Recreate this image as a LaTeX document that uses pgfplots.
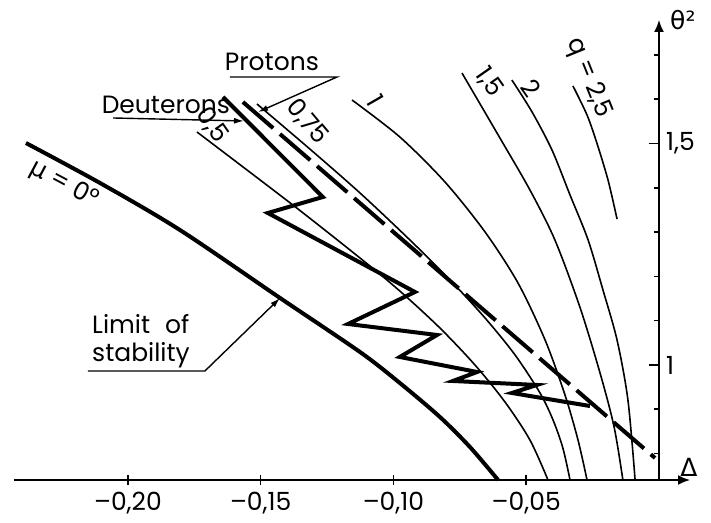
\documentclass[border=0pt]{standalone}
\usepackage{fontspec}
\setmainfont{Poppins}
\newfontfamily\gr{DejaVu Sans}
\usepackage{pgfplots}
\pgfplotsset{compat=1.18}
\usetikzlibrary{arrows.meta}
\begin{document}
\begin{tikzpicture}[lab/.style={font=\fontsize{12.5}{14}\selectfont, inner sep=0pt}]
\begin{axis}[name=ax,
  scale only axis, width=338pt, height=230pt,
  xmin=-0.2429, xmax=0.01168, ymin=0.7404, ymax=1.7788,
  axis x line=bottom, axis y line=center,
  axis line style={line width=0.8pt},
  x axis line style={-{Latex[length=6pt,width=5pt]}},
  y axis line style={-{Latex[length=6pt,width=5pt]}},
  xtick={-0.2,-0.15,-0.1,-0.05},
  xticklabels={{–0,20},{–0,15},{–0,10},{–0,05}},
  ytick={1,1.5}, yticklabels={1,{1,5}},
  minor ytick={0.8,0.9,1.1,1.2,1.3,1.4,1.6,1.7},
  xtick align=center, ytick align=outside,
  major tick length=5pt, minor tick length=2.5pt,
  tick style={line width=0.8pt, black},
  tick label style={font=\fontsize{12.5}{14}\selectfont},
  yticklabel style={anchor=west, xshift=5pt},
  clip=false,
]
% limit of stability mu = 0
\addplot[line width=2pt, smooth, no marks] coordinates {
(-0.2384,1.5011) (-0.2105,1.4108) (-0.1804,1.3047) (-0.1427,1.1512)
(-0.1126,1.0293) (-0.0976,0.9594) (-0.0825,0.8826) (-0.0712,0.8149) (-0.0606,0.7404)};
% q = 0.5
\addplot[line width=0.8pt, smooth, no marks] coordinates {
(-0.1740,1.5260) (-0.1379,1.3612) (-0.1126,1.2415) (-0.0976,1.1670)
(-0.0825,1.0835) (-0.0693,1.0000) (-0.0580,0.9165) (-0.0486,0.8307) (-0.0418,0.7404)};
% q = 0.75
\addplot[line width=0.8pt, smooth, no marks] coordinates {
(-0.1514,1.5892) (-0.1315,1.4876) (-0.1126,1.3883) (-0.0938,1.2822)
(-0.0787,1.1919) (-0.0655,1.1061) (-0.0542,1.0226) (-0.0448,0.9368)
(-0.0399,0.8758) (-0.0362,0.8126) (-0.0335,0.7404)};
% q = 1
\addplot[line width=0.8pt, smooth, no marks] coordinates {
(-0.1156,1.5982) (-0.0976,1.5147) (-0.0806,1.4131) (-0.0655,1.3002)
(-0.0531,1.1851) (-0.0429,1.0564) (-0.0354,0.9323) (-0.0305,0.8307) (-0.0271,0.7404)};
% q = 1.5
\addplot[line width=0.8pt, smooth, no marks] coordinates {
(-0.0742,1.6591) (-0.0599,1.5124) (-0.0486,1.3950) (-0.0392,1.2822)
(-0.0298,1.1309) (-0.0222,0.9819) (-0.0169,0.8600) (-0.0136,0.7404)};
% q = 2
\addplot[line width=0.8pt, smooth, no marks] coordinates {
(-0.0554,1.6433) (-0.0478,1.5711) (-0.0403,1.4853) (-0.0335,1.3837)
(-0.0267,1.2822) (-0.0211,1.1693) (-0.0158,1.0564) (-0.0117,0.9210) (-0.0090,0.7404)};
% q = 2.5
\addplot[line width=0.8pt, smooth, no marks] coordinates {
(-0.0324,1.6298) (-0.0271,1.5643) (-0.0234,1.5011) (-0.0192,1.4176) (-0.0158,1.3296)};
% protons (dashed)
\addplot[line width=2pt, dash pattern=on 20pt off 4.5pt, no marks] coordinates {
(-0.1567,1.5937) (-0.0015,0.7901)};
% deuterons (zigzag)
\addplot[line width=2pt, no marks] coordinates {
(-0.1642,1.6050) (-0.1266,1.3792) (-0.1473,1.3431) (-0.0919,1.1648)
(-0.1171,1.0926) (-0.0836,1.0677) (-0.0976,1.0181) (-0.0685,0.9842)
(-0.0776,0.9639) (-0.0460,0.9549) (-0.0554,0.9368) (-0.0260,0.9074)};
% annotations
\node[lab] at (axis cs:-0.1458,1.684) {Protons};
\draw[line width=0.7pt, -{Latex[length=5pt,width=3pt]}] (axis cs:-0.1616,1.650) -- (axis cs:-0.1213,1.650) -- (axis cs:-0.1510,1.571);
\node[lab] at (axis cs:-0.1857,1.587) {Deuterons};
\draw[line width=0.7pt, -{Latex[length=5pt,width=3pt]}] (axis cs:-0.2056,1.5576) -- (axis cs:-0.1563,1.5508);
\node[lab, align=left, anchor=west] at (axis cs:-0.2136,1.0542) {Limit\hspace{0.6em}of\\stability};
\draw[line width=0.7pt, -{Latex[length=5pt,width=3pt]}] (axis cs:-0.2151,0.9865) -- (axis cs:-0.1710,0.9865) -- (axis cs:-0.1427,1.1512);
\node[lab, rotate=-55] at (axis cs:-0.1684,1.5418) {0,5};
\node[lab, rotate=-50] at (axis cs:-0.1326,1.5485) {0,75};
\node[lab, rotate=-60] at (axis cs:-0.1070,1.598) {1};
\node[lab, rotate=-55] at (axis cs:-0.0640,1.6388) {1,5};
\node[lab, rotate=-55] at (axis cs:-0.0480,1.6253) {2};
\node[lab, rotate=-68] at (axis cs:-0.0265,1.6479) {q = 2,5};
\node[lab, rotate=-28] at (axis cs:-0.2240,1.4080) {{\gr μ} = 0°};
\node[lab] at (axis cs:0.0090,1.7788) {{\gr θ²}};
\node[lab] at (axis cs:0.0113,0.7698) {{\gr Δ}};
\end{axis}
\path ([shift={(-7pt,-21.5pt)}]ax.south west) rectangle ([shift={(10.5pt,10pt)}]ax.north east);
\end{tikzpicture}
\end{document}
